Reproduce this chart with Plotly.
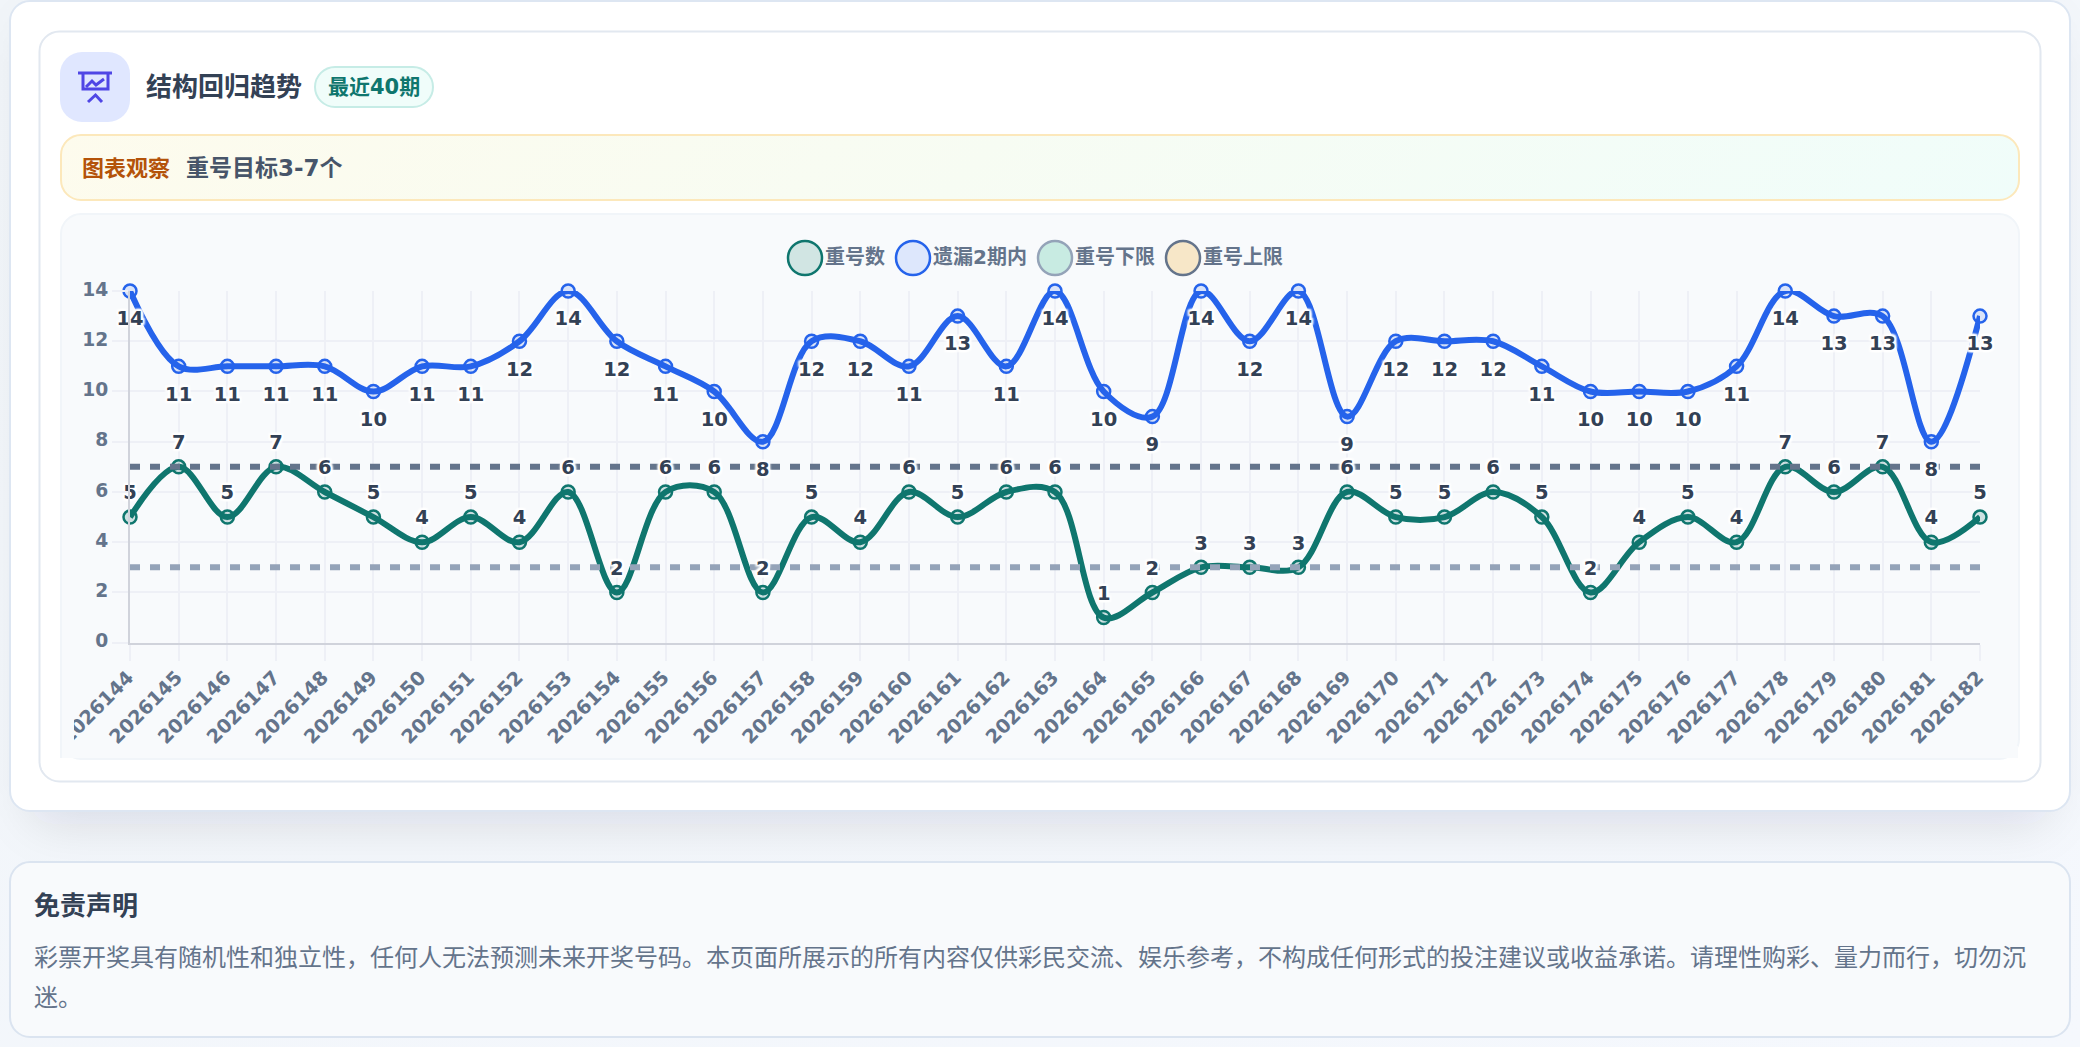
import base64
import plotly.graph_objects as go

W, H = 2080, 1047

# ---- data ----
periods = [str(p) for p in range(2026144, 2026183)]
repeat_count = [5, 7, 5, 7, 6, 5, 4, 5, 4, 6, 2, 6, 6, 2, 5, 4, 6, 5, 6, 6,
                1, 2, 3, 3, 3, 6, 5, 5, 6, 5, 2, 4, 5, 4, 7, 6, 7, 4, 5]
missing_within_2 = [14, 11, 11, 11, 11, 10, 11, 11, 12, 14, 12, 11, 10, 8, 12, 12, 11, 13, 11, 14,
                    10, 9, 14, 12, 14, 9, 12, 12, 12, 11, 10, 10, 10, 11, 14, 13, 13, 8, 13]
lower_limit = [3] * 39
upper_limit = [7] * 39
y_ticks = [0, 2, 4, 6, 8, 10, 12, 14]

title_text = "结构回归趋势"
badge_text = "最近40期"
notice_label = "图表观察"
notice_text = "重号目标3-7个"
disclaimer_title = "免责声明"
disclaimer_lines = [
    "彩票开奖具有随机性和独立性，任何人无法预测未来开奖号码。本页面所展示的所有内容仅供彩民交流、娱乐参考，不构成任何形式的投注建议或收益承诺。请理性购彩、量力而行，切勿沉",
    "迷。",
]
legend_names = ["重号数", "遗漏2期内", "重号下限", "重号上限"]

# ---- style ----
FONT = "DejaVu Sans, Noto Sans CJK SC, sans-serif"
GREEN, BLUE = "#0f766e", "#2563eb"
LOWER, UPPER = "#94a3b8", "#64748b"
SLATE, INK = "#64748b", "#334155"
GRID, AXIS = "#eef0f6", "#d0d3db"
PANEL = "#f8fafc"
HALO = ",".join(f"{x}px {y}px 2px #ffffff" for x, y in
                [(-2, 0), (2, 0), (0, -2), (0, 2), (-2, -2), (2, -2), (-2, 2), (2, 2)])

X0, X1, Y_TOP, Y_BOT = 130, 1980, 291, 642.7


def px(x):
    return x / W


def py(y):
    return 1 - y / H


def pline(pts):
    return "M " + " L ".join(f"{px(x):.6f},{py(y):.6f}" for x, y in pts)


def box(x0, y0, x1, y1, r, fill, stroke, sw=2):
    return (f'<rect x="{x0}" y="{y0}" width="{x1-x0}" height="{y1-y0}" rx="{r}" ry="{r}" '
            f'fill="{fill}" stroke="{stroke}" stroke-width="{sw}"/>')


svg = f'''<svg xmlns="http://www.w3.org/2000/svg" width="{W}" height="{H}" viewBox="0 0 {W} {H}">
<defs>
<filter id="s" x="-10%" y="-20%" width="120%" height="150%"><feGaussianBlur stdDeviation="24"/></filter>
<linearGradient id="page" x1="0" y1="0" x2="1" y2="1"><stop offset="0" stop-color="#f1f5f9"/><stop offset="1" stop-color="#f5f8fd"/></linearGradient>
<linearGradient id="note" gradientUnits="userSpaceOnUse" x1="460" y1="-560" x2="1620" y2="600"><stop offset="0" stop-color="#fffbeb"/><stop offset="1" stop-color="#f0fdfa"/></linearGradient>
</defs>
<rect width="{W}" height="{H}" fill="url(#page)"/>
<rect x="30" y="24" width="2020" height="800" rx="24" fill="#0f172a" fill-opacity="0.11" filter="url(#s)"/>
{box(10, 1, 2070, 811, 20, "#ffffff", "#dde6f2")}
{box(39.5, 31.5, 2040.5, 781.5, 20, "#ffffff", "#e2e8f0")}
{box(60, 52, 130, 122, 22, "#e0e7ff", "#e0e7ff", 0)}
{box(315, 67, 433, 107, 20, "#f0fdfa", "#c6ece6")}
{box(61, 135, 2019, 200, 20, "url(#note)", "#fce8bb")}
{box(61, 214, 2019, 759, 20, PANEL, "#f1f5f9")}
{box(10, 862, 2070, 1037, 20, PANEL, "#dbe4f0")}
</svg>'''
bg_uri = "data:image/svg+xml;base64," + base64.b64encode(svg.encode()).decode()

fig = go.Figure()


def add_series(name, values, color, tint, label_pos, label_gap):
    fig.add_trace(go.Scatter(
        x=periods, y=values, mode="markers", name=name, showlegend=False, cliponaxis=False,
        marker=dict(size=13, color=tint, line=dict(color=color, width=2.5))))
    fig.add_trace(go.Scatter(
        x=periods, y=values, mode="lines", name=name, showlegend=False, cliponaxis=False,
        line=dict(color=color, width=6, shape="spline", smoothing=1.0)))
    return dict(values=values, pos=label_pos, gap=label_gap)


green = add_series("重号数", repeat_count, GREEN, "rgba(15,118,110,0.18)", "top center", 19)
blue = add_series("遗漏2期内", missing_within_2, BLUE, "rgba(37,99,235,0.15)", "bottom center", 30)

for name, vals, col in [("重号下限", lower_limit, LOWER), ("重号上限", upper_limit, UPPER)]:
    fig.add_trace(go.Scatter(x=periods, y=vals, mode="lines", name=name, showlegend=False,
                             line=dict(color=col, width=6, dash="10px,10px")))

for s in (green, blue):
    fig.add_trace(go.Scatter(
        x=periods, y=s["values"], mode="markers+text", showlegend=False, cliponaxis=False,
        hoverinfo="skip", text=[str(v) for v in s["values"]], textposition=s["pos"],
        marker=dict(size=s["gap"], opacity=0),
        textfont=dict(family=FONT, size=19.5, weight=700, color=INK, shadow=HALO)))

shapes = []
# presentation icon
icon = "#4f46e5"
for pts in [[(78, 73), (112, 73)], [(83, 73), (83, 89), (108, 89), (108, 73)],
            [(86, 87), (92, 81), (96, 85), (104, 79)],
            [(88, 102), (95.5, 95), (102, 102)]]:
    shapes.append(dict(type="path", xref="paper", yref="paper", path=pline(pts),
                       line=dict(color=icon, width=3)))

# legend glyphs
legend_x = [805, 913, 1055, 1183]
legend_text_x = [822.5, 930.5, 1072.5, 1200.5]
legend_fill = ["#d1e5e3", "#dde7fc", "#c8ebe2", "#f7e7c8"]
legend_line = [GREEN, BLUE, LOWER, UPPER]
for x, f, c in zip(legend_x, legend_fill, legend_line):
    shapes.append(dict(type="circle", xref="paper", yref="paper", x0=px(x - 17), x1=px(x + 17),
                       y0=py(275), y1=py(241), fillcolor=f, line=dict(color=c, width=2.5)))

# tick-label clip of the reference panel
for x0, y0, x1, y1, col in [(62, 746, 2018, 758, PANEL), (62, 660, 74, 758, PANEL),
                            (60, 660, 62, 758, "#f1f5f9"), (42, 660, 60, 770, "#ffffff")]:
    shapes.append(dict(type="rect", xref="paper", yref="paper", layer="above",
                       x0=px(x0), x1=px(x1), y0=py(y1), y1=py(y0),
                       fillcolor=col, line=dict(width=0)))


def note(text, x, y, size, color, weight=400):
    return dict(text=text, x=px(x), y=py(y), xref="paper", yref="paper", xanchor="left",
                yanchor="middle", showarrow=False,
                font=dict(family=FONT, size=size, color=color, weight=weight))


annotations = [
    note(title_text, 143.5, 87, 26, INK, 700),
    note(badge_text, 325.5, 87, 21, GREEN, 700),
    note(notice_label, 79.5, 168, 22, "#b45309", 700),
    note(notice_text, 184, 168, 23, "#475569", 700),
    note(disclaimer_title, 32, 906, 26, INK, 700),
    note(disclaimer_lines[0], 32, 958, 24, SLATE),
    note(disclaimer_lines[1], 32, 998, 24, SLATE),
]
for t, x in zip(legend_names, legend_text_x):
    annotations.append(note(t, x, 257, 20, SLATE, 700))

ytickfont = dict(family=FONT, size=18.7, color=SLATE, weight=700)
xtickfont = dict(family=FONT, size=19.2, color=SLATE, weight=700)
fig.update_layout(
    width=W, height=H, margin=dict(l=0, r=0, t=0, b=0, pad=0, autoexpand=False),
    paper_bgcolor="#f4f7fc", plot_bgcolor="rgba(0,0,0,0)",
    showlegend=False, shapes=shapes, annotations=annotations,
    images=[dict(source=bg_uri, xref="paper", yref="paper", x=0, y=1, sizex=1, sizey=1,
                 sizing="stretch", xanchor="left", yanchor="top", layer="below")],
    xaxis=dict(type="category", domain=[px(X0), px(X1)], range=[0, 38],
               tickmode="array", tickvals=periods, ticktext=periods, tickangle=-45,
               ticklabelshift=-2, ticklabelstandoff=-2,
               tickfont=xtickfont, showgrid=True, gridcolor=GRID, gridwidth=2,
               ticks="outside", ticklen=16, tickwidth=2, tickcolor=GRID,
               showline=True, linecolor=AXIS, linewidth=2, zeroline=False, automargin=False),
    yaxis=dict(domain=[py(Y_BOT), py(Y_TOP)], range=[0, 14], tickmode="array", tickvals=y_ticks,
               ticklabelshift=-2,
               tickfont=ytickfont, showgrid=True, gridcolor=GRID, gridwidth=2,
               ticks="outside", ticklen=16, tickwidth=2, tickcolor=GRID,
               showline=True, linecolor=AXIS, linewidth=2, zeroline=False, automargin=False),
)

fig.write_html("out.html", config={"displayModeBar": False},
               post_script="document.body.style.margin='0';document.body.style.overflow='hidden';")
